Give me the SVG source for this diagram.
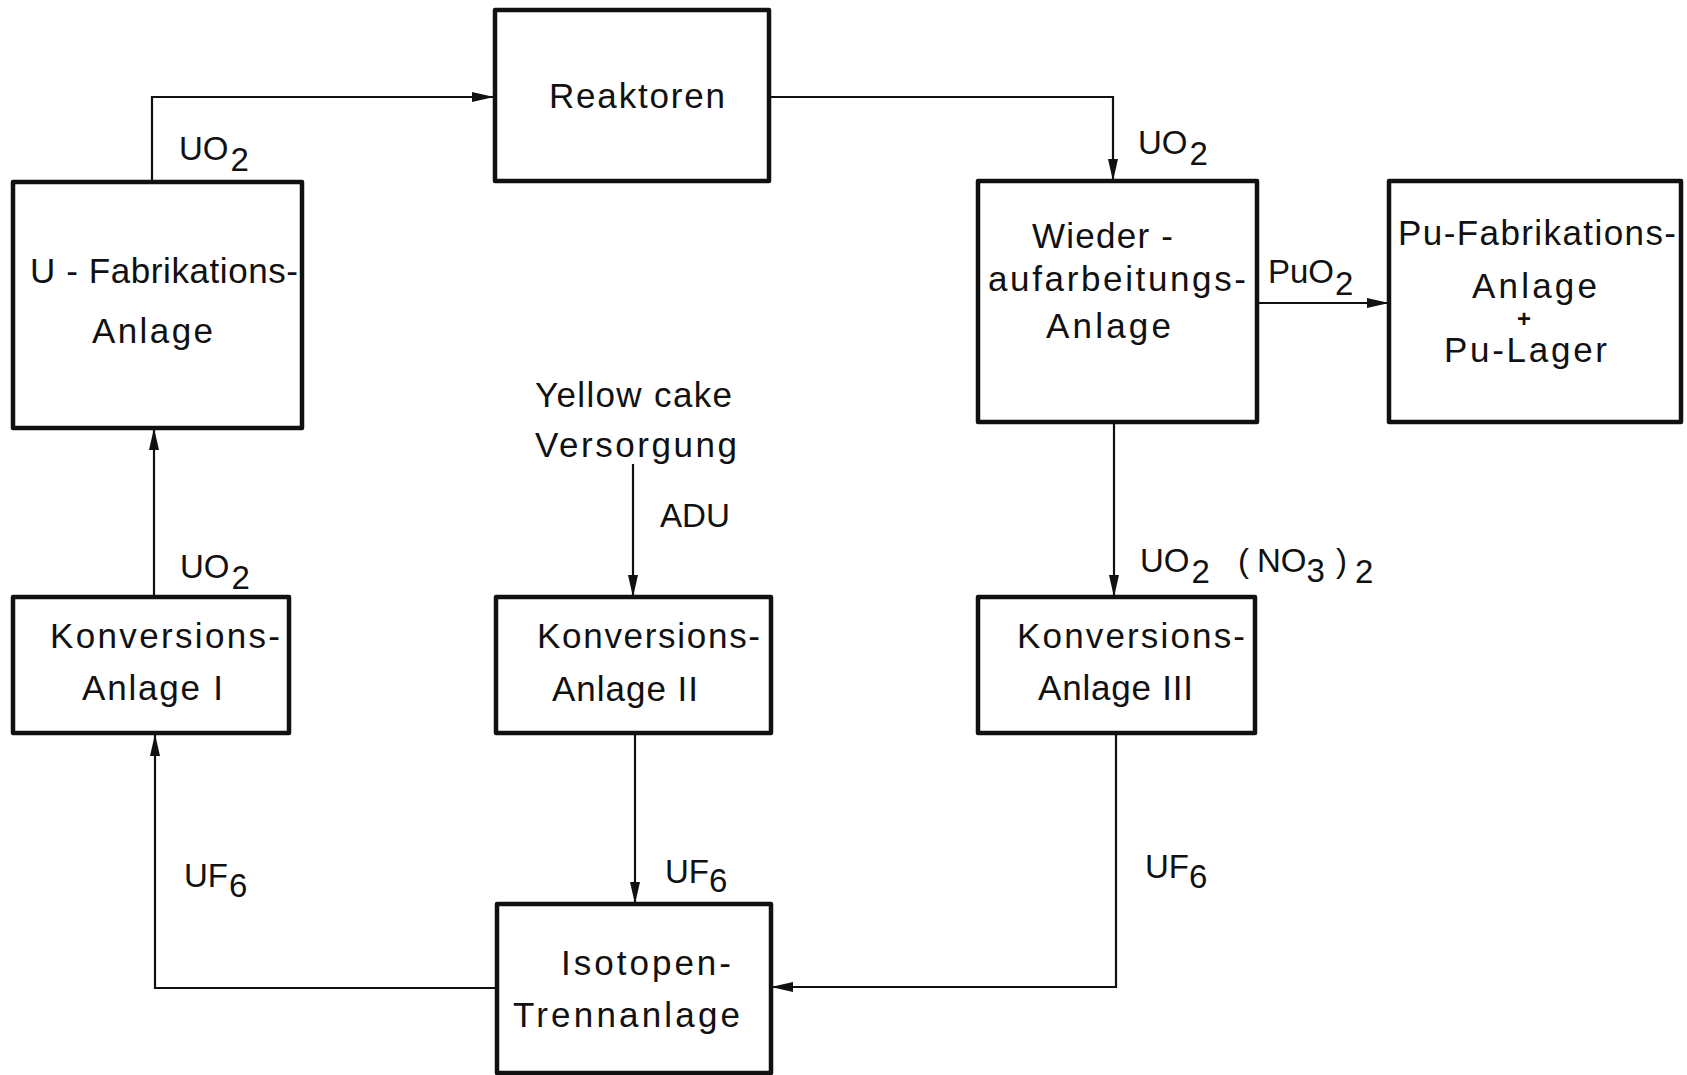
<svg xmlns="http://www.w3.org/2000/svg" width="1687" height="1075" viewBox="0 0 1687 1075">
<style>
.box{fill:#fff;stroke:#111;stroke-width:4.5;stroke-linejoin:round}
.con{fill:none;stroke:#111;stroke-width:2.2}
text{font-family:"Liberation Sans",Arial,sans-serif;font-size:35px;fill:#111}
.lbl{font-size:33px}
</style>
<defs>
<marker id="arr" viewBox="0 0 22 10" refX="22" refY="5" markerWidth="22" markerHeight="10" orient="auto" markerUnits="userSpaceOnUse">
<path d="M0,0 L22,5 L0,10 Z" fill="#111"/>
</marker>
</defs>
<rect width="1687" height="1075" fill="#fff"/>
<g id="connectors">
<path class="con" d="M152,181 V97 H494" marker-end="url(#arr)"/>
<path class="con" d="M769,97 H1113 V181" marker-end="url(#arr)"/>
<path class="con" d="M1257,303 H1389" marker-end="url(#arr)"/>
<path class="con" d="M1114,422 V597" marker-end="url(#arr)"/>
<path class="con" d="M1116,733 V987 H771" marker-end="url(#arr)"/>
<path class="con" d="M497,988 H155 V734" marker-end="url(#arr)"/>
<path class="con" d="M154,597 V428" marker-end="url(#arr)"/>
<path class="con" d="M633,464 V597" marker-end="url(#arr)"/>
<path class="con" d="M635,733 V904" marker-end="url(#arr)"/>
</g>
<g id="labels">
<text class="lbl" x="179" y="160">UO<tspan dx="2" dy="11">2</tspan></text>
<text class="lbl" x="1138" y="154">UO<tspan dx="2" dy="11">2</tspan></text>
<text class="lbl" x="1268" y="283">PuO<tspan dx="1" dy="12">2</tspan></text>
<text class="lbl" x="180" y="578">UO<tspan dx="2" dy="11">2</tspan></text>
<text class="lbl" x="1140" y="572">UO<tspan dx="2" dy="11">2</tspan><tspan x="1238" dy="-11">(</tspan><tspan x="1257">NO</tspan><tspan dy="10">3</tspan><tspan x="1336" dy="-10">)</tspan><tspan x="1355" dy="11">2</tspan></text>
<text class="lbl" x="660" y="527" textLength="70" lengthAdjust="spacingAndGlyphs">ADU</text>
<text class="lbl" x="184" y="887">UF<tspan dx="1" dy="10">6</tspan></text>
<text class="lbl" x="665" y="883">UF<tspan dx="0" dy="9">6</tspan></text>
<text class="lbl" x="1145" y="878">UF<tspan dx="0" dy="10">6</tspan></text>
<text x="535" y="407" textLength="197">Yellow cake</text>
<text x="535" y="457" textLength="202">Versorgung</text>
</g>
<g id="reaktoren">
<rect class="box" x="495" y="10" width="274" height="171"/>
<text x="549" y="108" textLength="176">Reaktoren</text>
</g>
<g id="u-fabrikation">
<rect class="box" x="13" y="182" width="289" height="246"/>
<text x="30" y="283" textLength="268">U - Fabrikations-</text>
<text x="92" y="343" textLength="121">Anlage</text>
</g>
<g id="wiederaufarbeitung">
<rect class="box" x="978" y="181" width="279" height="241"/>
<text x="1032" y="248" textLength="141">Wieder -</text>
<text x="988" y="291" textLength="258">aufarbeitungs-</text>
<text x="1046" y="338" textLength="125">Anlage</text>
</g>
<g id="pu-fabrikation">
<rect class="box" x="1389" y="181" width="292" height="241"/>
<text x="1398" y="245" textLength="278">Pu-Fabrikations-</text>
<text x="1472" y="298" textLength="125">Anlage</text>
<text x="1524" y="327" text-anchor="middle" style="font-size:24px;font-weight:bold">+</text>
<text x="1444" y="362" textLength="163">Pu-Lager</text>
</g>
<g id="konversion-1">
<rect class="box" x="13" y="597" width="276" height="136"/>
<text x="50" y="648" textLength="230">Konversions-</text>
<text x="82" y="700" textLength="141">Anlage I</text>
</g>
<g id="konversion-2">
<rect class="box" x="496" y="597" width="275" height="136"/>
<text x="537" y="648" textLength="223">Konversions-</text>
<text x="552" y="701" textLength="146">Anlage II</text>
</g>
<g id="konversion-3">
<rect class="box" x="978" y="597" width="277" height="136"/>
<text x="1017" y="648" textLength="228">Konversions-</text>
<text x="1038" y="700" textLength="155">Anlage III</text>
</g>
<g id="isotopentrennung">
<rect class="box" x="497" y="904" width="274" height="169"/>
<text x="561" y="975" textLength="170">Isotopen-</text>
<text x="513" y="1027" textLength="227">Trennanlage</text>
</g>
</svg>
